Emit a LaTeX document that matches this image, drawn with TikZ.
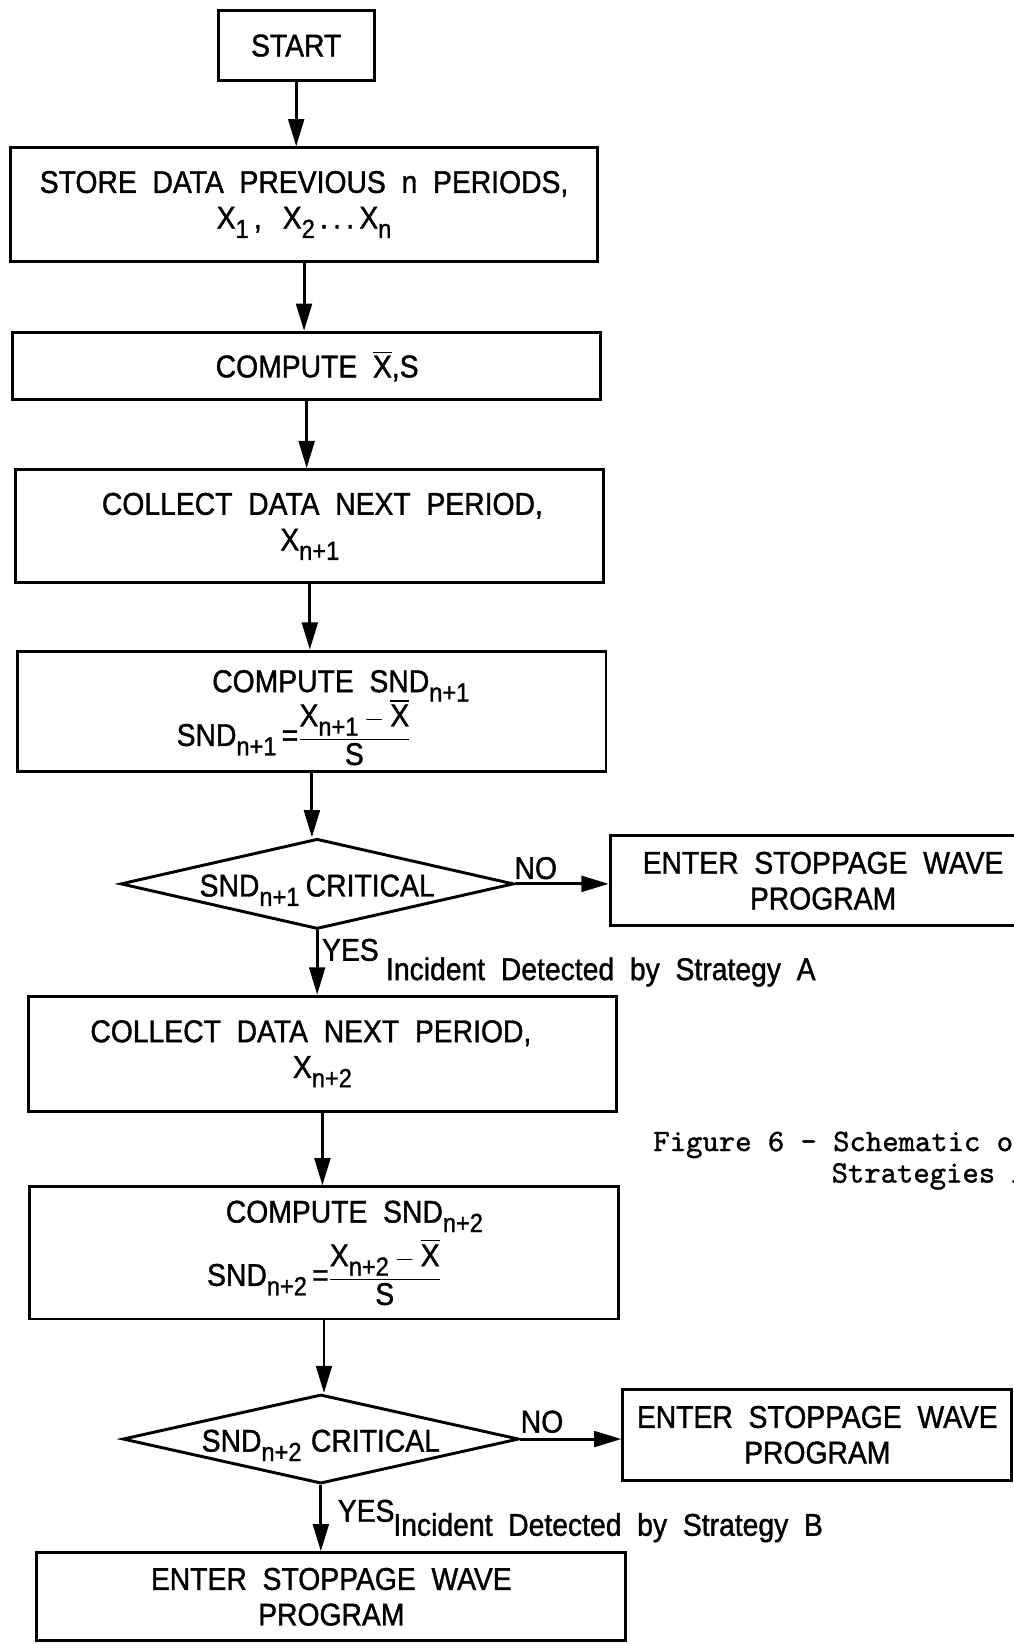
\documentclass[tikz,border=0pt]{standalone}
\usepackage{amsmath}
\usepackage{fontspec}
\setmainfont[FakeStretch=0.9, WordSpace=2, FakeBold=1.2]{Liberation Sans}
\newfontfamily\capfont[FakeBold=1.2]{lmmono10-regular.otf}
\usetikzlibrary{arrows.meta,shapes.geometric}
\newcommand\sbs[1]{\raisebox{-9pt}{\fontsize{25}{25}\selectfont #1}}
\newcommand\xbar{$\overline{\mbox{X}}$}
\begin{document}
\begin{tikzpicture}[x=1pt,y=-1pt,
  every node/.style={font=\fontsize{30}{34}\selectfont},
  box/.style={draw, line width=2.8pt, align=center, inner sep=0pt},
  dia/.style={draw, diamond, line width=2.8pt, inner sep=0pt},
  arr/.style={line width=2.8pt, -{Triangle[length=26pt,width=15pt]}},
  lbl/.style={inner sep=0pt},
  captext/.style={inner sep=0pt, font=\capfont\fontsize{29.7}{31}\selectfont}]
\useasboundingbox (0,0) rectangle (967,1568);
\clip (0,0) rectangle (967,1568);
\fill[white] (0,0) rectangle (967,1568);

\node[box, minimum width=149pt, minimum height=67pt] (start) at (282.5,43.5) {START};
\node[box, minimum width=560pt, minimum height=108pt] (b2) at (290,195)
  {STORE DATA PREVIOUS n PERIODS,\\ X\sbs{1}\,,\, X\sbs{2}\,.\,.\,.\,X\sbs{n}};
\node[box, minimum width=561pt, minimum height=64pt] (b3) at (292.5,349) {\hspace*{20pt}COMPUTE \xbar,S};
\node[box, minimum width=561pt, minimum height=108pt] (b4) at (295.5,502)
  {\hspace*{24pt}COLLECT DATA NEXT PERIOD,\\ X\sbs{n+1}};
\node[box, minimum width=561pt, minimum height=115pt] (b5) at (297.5,678.5)
  {\raisebox{0pt}[33pt]{\hspace*{55pt}COMPUTE SND\sbs{n+1}}\\[-3pt] SND\sbs{n+1}\,=$\displaystyle\frac{\mbox{X\sbs{n+1}}-\overline{\mbox{X}}}{\mbox{S}}$\hspace*{35pt}};
\node[dia, minimum width=375pt, minimum height=86pt] (d1) at (302.5,843)
  {\makebox[0pt]{\smash{\raisebox{-12pt}{SND\sbs{n+1}\hspace{6pt}CRITICAL}}}};
\node[box, minimum width=406pt, minimum height=86pt] (r1) at (785,840)
  {ENTER STOPPAGE WAVE\\ PROGRAM};
\node[box, minimum width=561pt, minimum height=110pt] (b6) at (307.5,1005)
  {COLLECT DATA NEXT PERIOD,\hspace*{22pt}\\ X\sbs{n+2}};
\node[box, minimum width=562pt, minimum height=126pt] (b7) at (309,1195)
  {\hspace*{58pt}COMPUTE SND\sbs{n+2}\\[6pt] SND\sbs{n+2}\,=$\displaystyle\frac{\mbox{X\sbs{n+2}}-\overline{\mbox{X}}}{\mbox{S}}$};
\node[dia, minimum width=378pt, minimum height=85pt] (d2) at (306,1372.5)
  {\makebox[0pt]{\smash{\raisebox{-12pt}{SND\sbs{n+2}\hspace{9pt}CRITICAL}}}};
\node[box, minimum width=371pt, minimum height=87pt] (r2) at (779.5,1368.5)
  {ENTER STOPPAGE WAVE\\ PROGRAM};
\node[box, minimum width=562pt, minimum height=84pt] (b8) at (316,1523)
  {ENTER STOPPAGE WAVE\\ PROGRAM};

\draw[arr] (start.south) -- (start.south |- b2.north);
\draw[arr] (b2.south) -- (b2.south |- b3.north);
\draw[arr] (b3.south) -- (b3.south |- b4.north);
\draw[arr] (b4.south) -- (b4.south |- b5.north);
\draw[arr] (b5.south) -- (b5.south |- d1.north);
\draw[arr] (d1.east) -- (d1.east -| r1.west);
\draw[arr] (d1.south) -- (d1.south |- b6.north);
\draw[arr] (b6.south) -- (b6.south |- b7.north);
\draw[arr] (b7.south) -- (b7.south |- d2.north);
\draw[arr] (d2.east) -- (d2.east -| r2.west);
\draw[arr] (d2.south) -- (d2.south |- b8.north);

\node[lbl] (no1) at (511,828) {NO};
\node[lbl] (no2) at (517,1356) {NO};
\node[lbl, anchor=west] (yes1) at (307,906) {YES};
\node[lbl, anchor=west] (yes2) at (322,1441) {YES};
\node[lbl, anchor=west] (inca) at (368,927) {Incident Detected by Strategy A};
\node[lbl, anchor=west] (incb) at (375,1457) {Incident Detected by Strategy B};

\node[captext, anchor=west] (cap1) at (623,1092) {Figure 6 – Schematic of};
\node[captext, anchor=west] (cap2) at (793,1122) {Strategies A};
\end{tikzpicture}
\end{document}
